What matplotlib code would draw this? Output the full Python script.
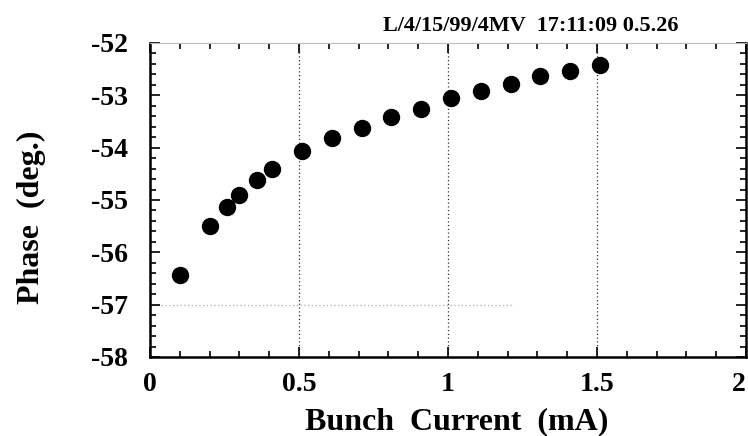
import numpy as np
import matplotlib
matplotlib.use("Agg")
import matplotlib.pyplot as plt
from matplotlib.ticker import MultipleLocator

plt.rcParams['font.family'] = ['Liberation Serif', 'DejaVu Serif']
plt.rcParams['axes.unicode_minus'] = False

# bunch current (mA) and phase (deg.)
current = [0.10, 0.20, 0.26, 0.30, 0.36, 0.41, 0.51, 0.61, 0.71, 0.81, 0.91, 1.01, 1.11, 1.21, 1.31, 1.41, 1.51]
phase = [-56.44, -55.50, -55.13, -54.91, -54.61, -54.41, -54.07, -53.82, -53.63, -53.42,
         -53.26, -53.05, -52.91, -52.79, -52.64, -52.53, -52.42]

x_ticks = [0, 0.5, 1, 1.5, 2]
x_tick_labels = ["0", "0.5", "1", "1.5", "2"]
y_ticks = [-58, -57, -56, -55, -54, -53, -52]
stamp = "L/4/15/99/4MV  17:11:09 0.5.26"

fig = plt.figure(figsize=(7.48, 4.36), dpi=100)
ax = fig.add_axes([0.2005, 0.1812, 0.7968, 0.7202])

ax.plot(current, phase, "o", color="black", ms=11.5, zorder=3)

ax.set_xlim(0, 2)
ax.set_ylim(-58, -52)
ax.set_xticks(x_ticks)
ax.set_xticklabels(x_tick_labels)
ax.set_yticks(y_ticks)
ax.xaxis.set_minor_locator(MultipleLocator(0.1))
ax.yaxis.set_minor_locator(MultipleLocator(0.2))
ax.tick_params(which="both", direction="in", top=True, right=True, width=1.2, color="black")
ax.tick_params(which="major", length=7, labelsize=20)
ax.tick_params(which="minor", length=4)
ax.tick_params(axis="y", which="major", pad=16)
ax.tick_params(axis="x", which="major", pad=11)
for lab in ax.get_xticklabels() + ax.get_yticklabels():
    lab.set_fontweight("bold")
ax.get_xticklabels()[-1].set_horizontalalignment("right")

for v in [0.5, 1.0, 1.5]:
    ax.axvline(v, color="#333333", lw=0.9, ls=(0, (1, 2)), zorder=1)
ax.hlines(-57, 0, 1.22, color="#aaaaaa", lw=0.9, ls=(0, (1, 2)), zorder=1)

for s in ["left", "bottom", "right"]:
    ax.spines[s].set_linewidth(1.8)
ax.spines["top"].set_linewidth(0.8)
ax.spines["top"].set_color("#bbbbbb")

ax.set_xlabel("Bunch  Current  (mA)", fontsize=23, fontweight="bold")
ax.set_ylabel("Phase  (deg.)", fontsize=23, fontweight="bold")
ax.xaxis.set_label_coords(0.515, -0.160)
ax.yaxis.set_label_coords(-0.175, 0.445)

fig.text(0.710, 0.940, stamp, fontsize=16, fontweight="bold", ha="center", va="center")

fig.savefig("out.png", dpi=100)
